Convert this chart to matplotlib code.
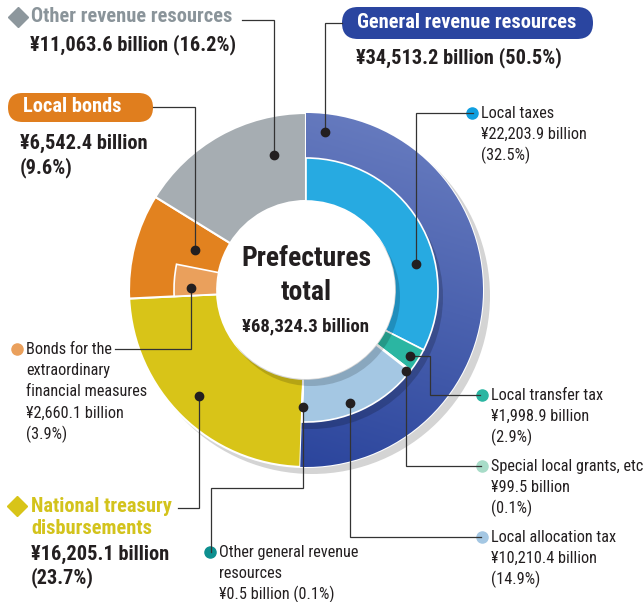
import numpy as np
import matplotlib.pyplot as plt
import matplotlib.colors as mcolors
from matplotlib.patches import Circle, FancyBboxPatch

plt.rcParams['font.family'] = ['Roboto Condensed', 'DejaVu Sans']

# prefecture revenue, billion yen
group_names = ['General revenue resources', 'National treasury disbursements',
               'Local bonds', 'Other revenue resources']
group_values = [34513.2, 16205.1, 6542.4, 11063.6]
group_shares = [50.5, 23.7, 9.6, 16.2]
group_colors = ['#3a52a6', '#d8c418', '#e2821f', '#a6adb2']

detail_names = ['Local taxes', 'Local transfer tax', 'Special local grants, etc',
                'Local allocation tax', 'Other general revenue resources',
                'Bonds for the extraordinary financial measures']
detail_values = [22203.9, 1998.9, 99.5, 10210.4, 0.5, 2660.1]
detail_shares = [32.5, 2.9, 0.1, 14.9, 0.1, 3.9]
detail_colors = ['#27aae1', '#2bb6a2', '#a8dcc8', '#a4c7e3', '#0d8f8f', '#eaa05c']
total_value = 68324.3

W, H = 643, 602
cx, cy = 306, 290
r_out, r_mid, r_in = 177, 132, 89
ink = '#231f20'
big = 14.7
small = 11.7

fig = plt.figure(figsize=(W / 100, H / 100), dpi=100)
ax = fig.add_axes([0, 0, 1, 1])

# drop shadow
ax.add_patch(Circle((cx + 6, cy + 6), r_out + 1, color='#d4d4d4', zorder=0.5, lw=0))

# outer ring (left groups run the full width)
outer, _ = ax.pie(group_values, colors=group_colors, radius=r_out, center=(cx, cy),
                  startangle=-90, counterclock=True, frame=True,
                  wedgeprops=dict(width=r_out - r_in, edgecolor='white', linewidth=1.5))

# gradient on the general revenue ring
xs = np.linspace(cx - r_out, cx + r_out, 300)
ys = np.linspace(cy - r_out, cy + r_out, 300)
X, Y = np.meshgrid(xs, ys)
t = np.clip((Y - (cy - r_out)) / (2 * r_out) * 0.85 + ((cx + r_out) - X) / (2 * r_out) * 0.25, 0, 1)
c0 = np.array(mcolors.to_rgb('#6c80c2'))
c1 = np.array(mcolors.to_rgb('#2a449c'))
rgb = c0[None, None, :] * (1 - t[..., None]) + c1[None, None, :] * t[..., None]
im = ax.imshow(rgb, extent=(cx - r_out, cx + r_out, cy + r_out, cy - r_out), origin='upper',
               aspect='auto', interpolation='bilinear', zorder=1.5)
im.set_clip_path(outer[0])

# shadow of inner ring on the blue ring
sh = Circle((cx + 5, cy + 7), r_mid, color='black', alpha=0.18, lw=0, zorder=1.6)
ax.add_patch(sh)
sh.set_clip_path(outer[0])

# inner ring: general revenue breakdown + extraordinary bonds
inner_values = detail_values[:5] + [group_values[1], detail_values[5],
                                    group_values[2] - detail_values[5], group_values[3]]
inner_colors = detail_colors[:5] + ['none', detail_colors[5], 'none', 'none']
inner, _ = ax.pie(inner_values, colors=inner_colors, radius=r_mid, center=(cx, cy),
                  startangle=-90, counterclock=True, frame=True,
                  wedgeprops=dict(width=r_mid - r_in, edgecolor='white', linewidth=1.2))
for w, c in zip(inner, inner_colors):
    w.set_zorder(2)
    if c == 'none':
        w.set_visible(False)

# inner hole shadow
ax.add_patch(Circle((cx + 5, cy + 7), r_in, color='black', alpha=0.16, lw=0, zorder=2.5))
ax.add_patch(Circle((cx, cy), r_in, color='white', lw=0, zorder=2.6))

# centre text
ax.text(cx, 258, 'Prefectures', ha='center', va='center', fontsize=20, fontweight='bold', color=ink, zorder=5)
ax.text(cx, 293, 'total', ha='center', va='center', fontsize=20, fontweight='bold', color=ink, zorder=5)
ax.text(cx, 326, f'¥{total_value:,.1f} billion', ha='center', va='center', fontsize=13.5,
        fontweight='bold', color=ink, zorder=5)


def leader(xs_, ys_):
    ax.plot(xs_, ys_, color='#333333', lw=0.9, zorder=6, solid_joinstyle='miter')
    ax.plot(xs_[-1], ys_[-1], 'o', color=ink, ms=6, zorder=7)


def money(v):
    return f'¥{v:,.1f} billion'


# --- other revenue resources
ax.plot(18, 17, 'D', color='#8d979d', ms=10.5, zorder=6)
ax.text(31, 17, group_names[3], fontsize=big, fontweight='bold', color='#8a949a', va='center')
ax.text(30, 45, f'{money(group_values[3])} ({group_shares[3]:.1f}%)', fontsize=big,
        fontweight='bold', color=ink, va='center')
leader([242, 274, 274], [20, 20, 155])

# --- local bonds
ax.add_patch(FancyBboxPatch((8, 93), 145, 29, boxstyle='round,pad=0,rounding_size=14.5',
                            color='#e07e1e', lw=0, zorder=4))
ax.text(23, 107, group_names[2], fontsize=big, fontweight='bold', color='white', va='center', zorder=5)
ax.text(20, 143, money(group_values[2]), fontsize=big, fontweight='bold', color=ink, va='center')
ax.text(20, 168, f'({group_shares[2]:.1f}%)', fontsize=big, fontweight='bold', color=ink, va='center')
leader([153, 195, 195], [107, 107, 250])

# --- general revenue resources
ax.add_patch(FancyBboxPatch((342, 7), 251, 32, boxstyle='round,pad=0,rounding_size=16',
                            color='#2a45a0', lw=0, zorder=4))
ax.text(467, 23, group_names[0], fontsize=big, fontweight='bold', color='white',
        ha='center', va='center', zorder=5)
ax.text(356, 58, f'{money(group_values[0])} ({group_shares[0]:.1f}%)', fontsize=big,
        fontweight='bold', color=ink, va='center')
leader([342, 325, 325], [23, 23, 132])

# --- national treasury disbursements
ax.plot(17, 506, 'D', color='#d8c418', ms=10.5, zorder=6)
ax.text(31, 506, 'National treasury', fontsize=big, fontweight='bold', color='#d3c31c', va='center')
ax.text(31, 529, 'disbursements', fontsize=big, fontweight='bold', color='#d3c31c', va='center')
ax.text(31, 554, money(group_values[1]), fontsize=big, fontweight='bold', color=ink, va='center')
ax.text(31, 578, f'({group_shares[1]:.1f}%)', fontsize=big, fontweight='bold', color=ink, va='center')
leader([178, 199, 199], [508, 508, 396])


# --- detail labels
def small_label(x, y0, lines, dot_color):
    ax.plot(x - 9, y0, 'o', color=dot_color, ms=8, zorder=6)
    for k, s in enumerate(lines):
        ax.text(x, y0 + k * 21.3, s, fontsize=small, color=ink, va='center')


small_label(481, 113, [detail_names[0], money(detail_values[0]), f'({detail_shares[0]:.1f}%)'], '#0f9fe0')
leader([473, 416, 416], [113, 113, 264])

small_label(491, 395, [detail_names[1], money(detail_values[1]), f'({detail_shares[1]:.1f}%)'], detail_colors[1])
leader([480, 430, 430, 410], [395, 395, 356, 356])

small_label(491, 466, [detail_names[2], money(detail_values[2]), f'({detail_shares[2]:.1f}%)'], detail_colors[2])
leader([481, 406, 406], [466, 466, 371])

small_label(491, 537, [detail_names[3], money(detail_values[3]), f'({detail_shares[3]:.1f}%)'], detail_colors[3])
leader([481, 350, 350], [537, 537, 403])

small_label(219, 552, ['Other general revenue', 'resources',
                       f'{money(detail_values[4])} ({detail_shares[4]:.1f}%)'], detail_colors[4])
leader([211, 211, 303, 303], [552, 488, 488, 407])

small_label(26, 349, ['Bonds for the', 'extraordinary', 'financial measures',
                      money(detail_values[5]), f'({detail_shares[5]:.1f}%)'], detail_colors[5])
leader([115, 191, 191], [349, 349, 288])

ax.set_xlim(0, W)
ax.set_ylim(H, 0)
ax.set_aspect('auto')
ax.axis('off')

fig.savefig('out.png', dpi=100)
